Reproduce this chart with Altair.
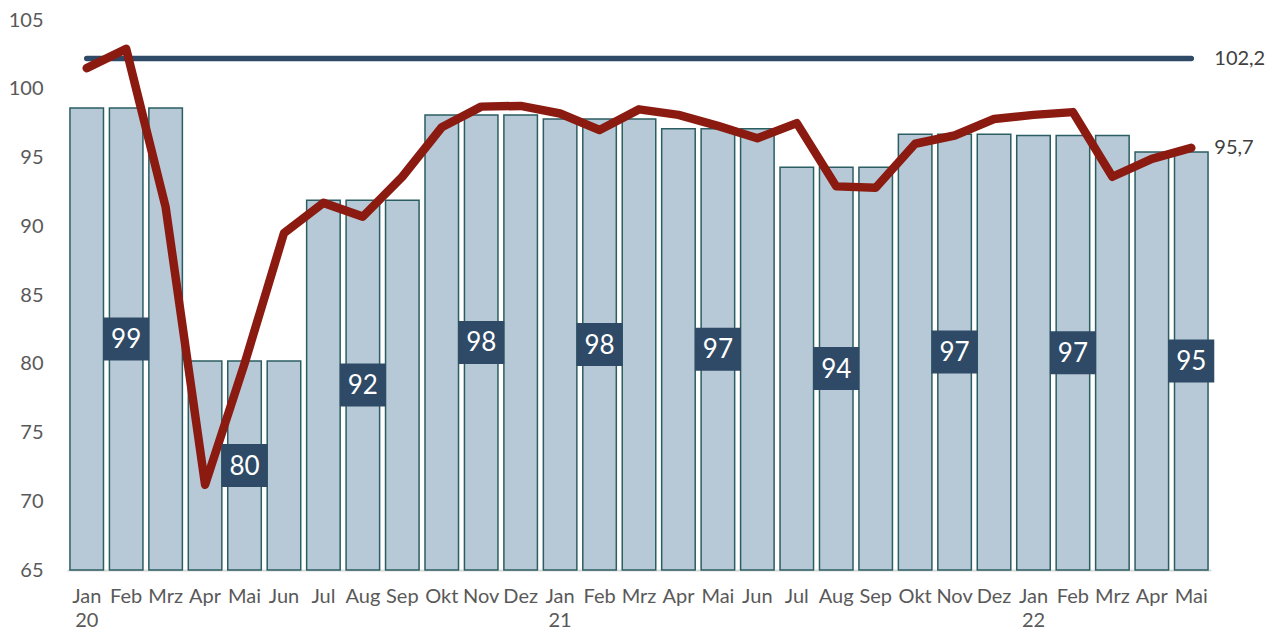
import altair as alt
import pandas as pd

months = ["Jan", "Feb", "Mrz", "Apr", "Mai", "Jun", "Jul", "Aug", "Sep", "Okt", "Nov", "Dez",
          "Jan", "Feb", "Mrz", "Apr", "Mai", "Jun", "Jul", "Aug", "Sep", "Okt", "Nov", "Dez",
          "Jan", "Feb", "Mrz", "Apr", "Mai"]
years = ["20", "20", "20", "20", "20", "20", "20", "20", "20", "20", "20", "20",
         "21", "21", "21", "21", "21", "21", "21", "21", "21", "21", "21", "21",
         "22", "22", "22", "22", "22"]
# quarterly level shown as bars (one bar per month)
bar_values = [98.6, 98.6, 98.6, 80.2, 80.2, 80.2, 91.9, 91.9, 91.9, 98.1, 98.1, 98.1,
              97.8, 97.8, 97.8, 97.1, 97.1, 97.1, 94.3, 94.3, 94.3, 96.7, 96.7, 96.7,
              96.6, 96.6, 96.6, 95.4, 95.4]
# monthly series (red line)
line_values = [101.5, 102.9, 91.4, 71.2, 80.0, 89.5, 91.7, 90.7, 93.6, 97.2, 98.7, 98.75,
               98.2, 97.0, 98.5, 98.1, 97.3, 96.4, 97.5, 92.9, 92.8, 96.0, 96.6, 97.8,
               98.1, 98.3, 93.6, 94.9, 95.7]
# quarter labels
label_keys = ["Feb 20", "Mai 20", "Aug 20", "Nov 20", "Feb 21", "Mai 21", "Aug 21", "Nov 21", "Feb 22", "Mai 22"]
label_values = [98.6, 80.2, 91.9, 98.1, 97.8, 97.1, 94.3, 96.7, 96.6, 95.4]
ref_value = 102.2
last_value = 95.7

FONT = "Lato"
Y_MIN, Y_MAX = 65, 105

keys = [f"{m} {y}" for m, y in zip(months, years)]
df = pd.DataFrame({"key": keys, "bar": bar_values, "line": line_values})
lab = pd.DataFrame({"key": label_keys, "v": label_values})
ref = pd.DataFrame({"key": [keys[0]], "key2": [keys[-1]], "v": [ref_value]})
ends = pd.DataFrame({"key": [keys[-1], keys[-1]], "v": [ref_value, last_value]})

x_scale = alt.Scale(domain=keys, paddingInner=0.15, paddingOuter=0.075)
x_axis = alt.Axis(
    title=None, labelAngle=0, ticks=False, domainColor="#D9D9D9", domainWidth=2,
    labelFont=FONT, labelFontSize=20, labelColor="#595959", labelPadding=16,
    labelLineHeight=24,
    labelExpr="indexof(datum.value, 'Jan') == 0 ? split(datum.value, ' ') : split(datum.value, ' ')[0]",
)
y_scale = alt.Scale(domain=[Y_MIN, Y_MAX], nice=False, zero=False)
y_axis = alt.Axis(
    title=None, values=list(range(65, 106, 5)), grid=False, ticks=False, domain=False,
    labelFont=FONT, labelFontSize=20, labelColor="#595959", labelPadding=24,
)


def X():
    return alt.X("key:N", scale=x_scale, sort=None)


bars = alt.Chart(df).mark_bar(
    fill="#B7C9D6", stroke="#2B5E62", strokeWidth=1.5
).encode(
    x=alt.X("key:N", scale=x_scale, sort=None, axis=x_axis),
    y=alt.Y("bar:Q", scale=y_scale, axis=y_axis),
    y2=alt.datum(Y_MIN),
)

rule = alt.Chart(ref).mark_rule(
    color="#2E4A66", strokeWidth=5.5, strokeCap="round"
).encode(
    x=X(),
    x2="key2:N",
    y=alt.Y("v:Q", scale=y_scale),
)

line = alt.Chart(df).mark_line(
    color="#8B1A11", strokeWidth=8.5, strokeCap="round", strokeJoin="round"
).encode(
    x=X(),
    y=alt.Y("line:Q", scale=y_scale),
)

box_path = "M-1.07,-1H1.07V1H-1.07Z"
boxes = alt.Chart(lab).transform_calculate(
    mid=f"({Y_MIN} + datum.v) / 2"
).mark_point(
    shape=box_path, size=43 * 43, filled=True, fill="#2E4A66", opacity=1, strokeWidth=0
).encode(
    x=X(),
    y=alt.Y("mid:Q", scale=y_scale),
)

box_text = alt.Chart(lab).transform_calculate(
    mid=f"({Y_MIN} + datum.v) / 2",
    txt="format(datum.v, '.0f')",
).mark_text(
    color="white", font=FONT, fontSize=26, baseline="middle", align="center", dy=1
).encode(
    x=X(),
    y=alt.Y("mid:Q", scale=y_scale),
    text="txt:N",
)

end_text = alt.Chart(ends).transform_calculate(
    txt="replace(format(datum.v, '.1f'), '.', ',')"
).mark_text(
    color="#404040", font=FONT, fontSize=20, align="left", baseline="middle", dx=23
).encode(
    x=X(),
    y=alt.Y("v:Q", scale=y_scale),
    text="txt:N",
)

chart = alt.layer(bars, rule, line, boxes, box_text, end_text).properties(
    width=1144, height=550,
    padding={"left": 59, "top": 12, "right": 57, "bottom": 62},
    autosize=alt.AutoSizeParams(type="none"),
).configure_view(stroke=None)

chart.save("out.html", embed_options={"renderer": "svg", "actions": False})
